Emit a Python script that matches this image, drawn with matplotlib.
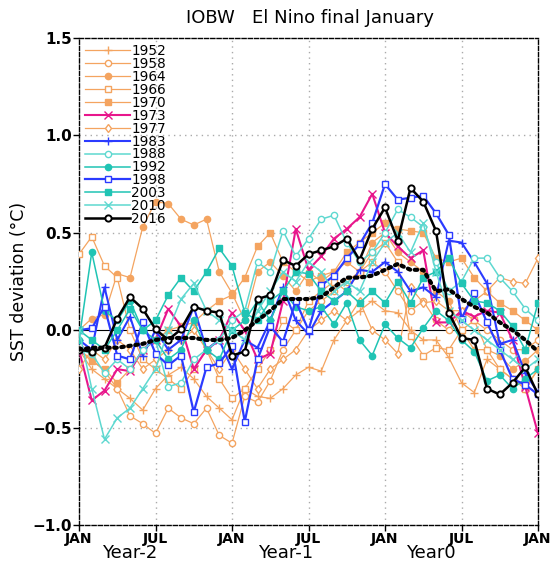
import numpy as np
import matplotlib
matplotlib.use("Agg")
import matplotlib.pyplot as plt

months = list(range(37))
tick_pos = [0, 6, 12, 18, 24, 30, 36]
tick_labels = ["JAN", "JUL", "JAN", "JUL", "JAN", "JUL", "JAN"]
year_labels = ["Year-2", "Year-1", "Year0"]
year_pos = [4, 16.2, 27.6]

y1952 = [-0.10, -0.20, -0.25, -0.30, -0.35, -0.41, -0.30, -0.23, -0.19, -0.25, -0.34, -0.40, -0.46, -0.30, -0.34, -0.35, -0.30, -0.23, -0.19, -0.21, -0.05, 0.05, 0.10, 0.15, 0.10, 0.09, 0.00, -0.05, -0.05, -0.14, -0.27, -0.32, -0.15, -0.20, -0.25, -0.30, -0.20]
y1958 = [-0.10, -0.15, -0.21, -0.30, -0.44, -0.48, -0.53, -0.40, -0.45, -0.48, -0.40, -0.54, -0.58, -0.34, -0.37, -0.26, -0.10, 0.00, 0.10, 0.15, 0.20, 0.25, 0.30, 0.35, 0.30, 0.20, 0.10, 0.15, 0.05, 0.00, 0.10, 0.05, 0.00, -0.05, -0.10, -0.10, -0.05]
y1964 = [0.00, 0.06, 0.08, 0.29, 0.27, 0.53, 0.66, 0.65, 0.57, 0.54, 0.57, 0.30, 0.19, 0.05, 0.30, 0.35, 0.28, 0.20, 0.30, 0.25, 0.30, 0.35, 0.30, 0.45, 0.50, 0.40, 0.35, 0.30, 0.20, 0.15, 0.00, -0.10, -0.10, -0.13, -0.20, -0.16, -0.10]
y1966 = [0.39, 0.48, 0.33, 0.27, 0.00, -0.15, -0.20, -0.25, -0.30, -0.20, -0.10, -0.25, -0.35, -0.30, -0.20, -0.10, 0.05, 0.00, 0.15, 0.20, 0.25, 0.20, 0.30, 0.40, 0.45, 0.35, -0.03, -0.13, -0.09, -0.10, 0.00, 0.05, -0.10, -0.20, -0.25, -0.30, -0.20]
y1970 = [-0.10, -0.16, -0.20, -0.27, -0.20, -0.10, -0.05, 0.00, 0.02, 0.04, 0.10, 0.15, 0.18, 0.27, 0.43, 0.50, 0.35, 0.30, 0.25, 0.28, 0.30, 0.40, 0.45, 0.50, 0.55, 0.52, 0.51, 0.50, 0.37, 0.35, 0.37, 0.27, 0.20, 0.14, 0.10, 0.05, 0.00]
y1973 = [-0.10, -0.36, -0.31, -0.20, -0.21, -0.10, -0.05, 0.11, 0.02, -0.20, -0.10, -0.05, 0.09, 0.00, -0.15, -0.12, 0.15, 0.52, 0.31, 0.38, 0.47, 0.52, 0.58, 0.70, 0.50, 0.43, 0.37, 0.41, 0.04, 0.04, 0.10, 0.07, 0.10, 0.09, -0.05, -0.29, -0.53]
y1977 = [-0.20, -0.10, -0.15, -0.05, -0.10, -0.20, -0.15, -0.10, -0.05, 0.00, -0.10, -0.20, -0.10, -0.20, -0.30, -0.20, -0.15, -0.10, 0.00, 0.05, 0.10, 0.05, 0.15, 0.00, -0.05, -0.12, 0.22, 0.14, 0.15, 0.10, 0.10, 0.15, 0.20, 0.27, 0.25, 0.24, 0.37]
y1983 = [-0.05, -0.10, 0.22, -0.05, 0.07, -0.13, 0.00, -0.10, -0.05, 0.12, -0.10, -0.05, -0.20, -0.05, -0.09, 0.05, 0.22, 0.05, -0.02, 0.10, 0.15, 0.20, 0.31, 0.30, 0.35, 0.30, 0.20, 0.22, 0.17, 0.46, 0.45, 0.35, 0.24, -0.07, -0.05, -0.22, -0.32]
y1988 = [-0.10, -0.12, -0.22, -0.15, -0.20, -0.10, -0.05, -0.29, -0.27, -0.15, -0.10, -0.05, 0.05, 0.10, 0.35, 0.30, 0.51, 0.38, 0.47, 0.57, 0.59, 0.45, 0.35, 0.40, 0.50, 0.62, 0.58, 0.53, 0.35, 0.20, 0.25, 0.37, 0.37, 0.27, 0.20, 0.11, 0.05]
y1992 = [-0.05, 0.40, 0.10, 0.05, 0.15, 0.00, -0.05, -0.15, -0.10, 0.05, -0.10, -0.15, 0.00, 0.05, 0.15, 0.05, 0.20, 0.12, 0.10, 0.12, 0.03, 0.14, -0.05, -0.13, 0.03, -0.04, -0.09, 0.01, 0.10, 0.05, -0.05, -0.11, -0.26, -0.23, -0.30, -0.25, -0.20]
y1998 = [0.00, 0.01, 0.12, -0.13, -0.15, 0.04, -0.12, -0.18, -0.13, -0.42, -0.19, -0.17, -0.08, -0.47, -0.15, 0.02, -0.06, 0.15, 0.00, 0.23, 0.28, 0.37, 0.44, 0.55, 0.75, 0.67, 0.68, 0.69, 0.60, 0.49, 0.06, 0.19, 0.04, -0.10, -0.25, -0.28, -0.33]
y2003 = [0.00, -0.05, -0.10, 0.00, 0.11, 0.00, 0.05, 0.18, 0.27, 0.20, 0.30, 0.42, 0.33, 0.09, 0.05, 0.15, 0.20, 0.30, 0.29, 0.20, 0.15, 0.20, 0.14, 0.20, 0.14, 0.25, 0.14, 0.27, 0.30, 0.37, 0.24, 0.15, 0.14, 0.10, 0.02, -0.10, 0.14]
y2010 = [0.00, -0.30, -0.56, -0.45, -0.40, -0.30, -0.20, 0.00, 0.16, 0.24, 0.10, 0.05, 0.00, -0.05, 0.10, 0.20, 0.30, 0.25, 0.35, 0.30, 0.20, 0.25, 0.20, 0.35, 0.45, 0.50, 0.40, 0.55, 0.30, 0.10, 0.05, 0.00, -0.05, -0.10, -0.15, -0.20, -0.15]
y2016 = [-0.10, -0.11, -0.09, 0.06, 0.17, 0.11, 0.005, -0.05, 0.005, 0.12, 0.10, 0.09, -0.13, -0.11, 0.16, 0.18, 0.36, 0.33, 0.39, 0.41, 0.43, 0.47, 0.36, 0.52, 0.63, 0.46, 0.73, 0.66, 0.51, 0.09, -0.04, -0.05, -0.30, -0.33, -0.27, -0.19, -0.33]
ymean = [-0.10, -0.09, -0.09, -0.09, -0.08, -0.07, -0.05, -0.04, -0.04, -0.04, -0.05, -0.05, -0.04, 0.00, 0.05, 0.10, 0.16, 0.16, 0.16, 0.17, 0.22, 0.27, 0.27, 0.28, 0.31, 0.34, 0.31, 0.31, 0.20, 0.21, 0.16, 0.12, 0.09, 0.04, 0.00, -0.05, -0.11]

ORANGE = "#F4A460"
MAG = "#E8168C"
BLUE = "#2B3BFF"
CYAN = "#5ED8D0"
TEAL = "#20C4B4"

series = [
    ("1952", y1952, ORANGE, "+", True, 0.9),
    ("1958", y1958, ORANGE, "o", False, 0.9),
    ("1964", y1964, ORANGE, "o", True, 0.9),
    ("1966", y1966, ORANGE, "s", False, 0.9),
    ("1970", y1970, ORANGE, "s", True, 0.9),
    ("1973", y1973, MAG, "x", True, 1.5),
    ("1977", y1977, ORANGE, "d", False, 0.9),
    ("1983", y1983, BLUE, "+", True, 1.5),
    ("1988", y1988, CYAN, "o", False, 1.1),
    ("1992", y1992, TEAL, "o", True, 1.1),
    ("1998", y1998, BLUE, "s", False, 1.6),
    ("2003", y2003, TEAL, "s", True, 1.1),
    ("2010", y2010, CYAN, "x", True, 1.1),
    ("2016", y2016, "black", "o", False, 1.8),
]

fig = plt.figure(figsize=(5.57, 5.69), dpi=100)
ax = fig.add_axes([79/557, 1-525/569, 459/557, 487/569])

for i, (lab, vals, col, mk, filled, lw) in enumerate(series):
    kw = dict(color=col, lw=lw, marker=mk, ms=4.5 if mk not in "+x" else 5.5,
              mew=1.4 if lab == "2016" else 1.0, label=lab, zorder=3 + i * 0.1)
    kw["mfc"] = col if filled else "white"
    kw["mec"] = col
    ax.plot(months, vals, **kw)

ax.plot(months, ymean, color="black", lw=3, linestyle=(0, (0.6, 1.1)),
        dash_capstyle="round", zorder=6)

ax.axhline(0, color="black", lw=0.8, zorder=2)
for x in [6, 12, 18, 24, 30]:
    ax.axvline(x, color="#aaaaaa", lw=1, linestyle=(0, (1, 3)), zorder=1)
for y in [-0.5, 0.5, 1.0]:
    ax.axhline(y, color="#aaaaaa", lw=1, linestyle=(0, (1, 3)), zorder=1)

ax.set_xlim(0, 36)
ax.set_ylim(-1.0, 1.5)
ax.set_xticks(tick_pos)
ax.set_xticklabels(tick_labels, fontsize=10, fontweight="bold", family="Liberation Sans Narrow")
ax.set_yticks([-1.0, -0.5, 0.0, 0.5, 1.0, 1.5])
ax.set_yticklabels(["\u22121.0", "\u22120.5", "0.0", "0.5", "1.0", "1.5"], fontsize=11, fontweight="bold")
ax.tick_params(axis="both", direction="out", length=4, width=1, pad=1)
for sp in ax.spines.values():
    sp.set_linestyle((0, (3, 1.5)))
    sp.set_linewidth(1.0)

for lab, xp in zip(year_labels, year_pos):
    xpix = ax.transData.transform((xp, 0))[0]
    fig.text(xpix / 557, 1 - 553 / 569, lab, ha="center", va="center", fontsize=13)

ax.set_ylabel("SST deviation (\u00b0C)", fontsize=12.5, labelpad=3)
fig.text(310/557, 1-18/569, "IOBW   El Nino final January", ha="center", va="center", fontsize=13)

leg = ax.legend(loc="upper left", bbox_to_anchor=(0.0, 1.0), frameon=False, fontsize=9.8,
                handlelength=3.3, labelspacing=-0.08, handletextpad=0.1, borderpad=0.35,
                borderaxespad=0.1)

fig.savefig("out.png", dpi=100)
